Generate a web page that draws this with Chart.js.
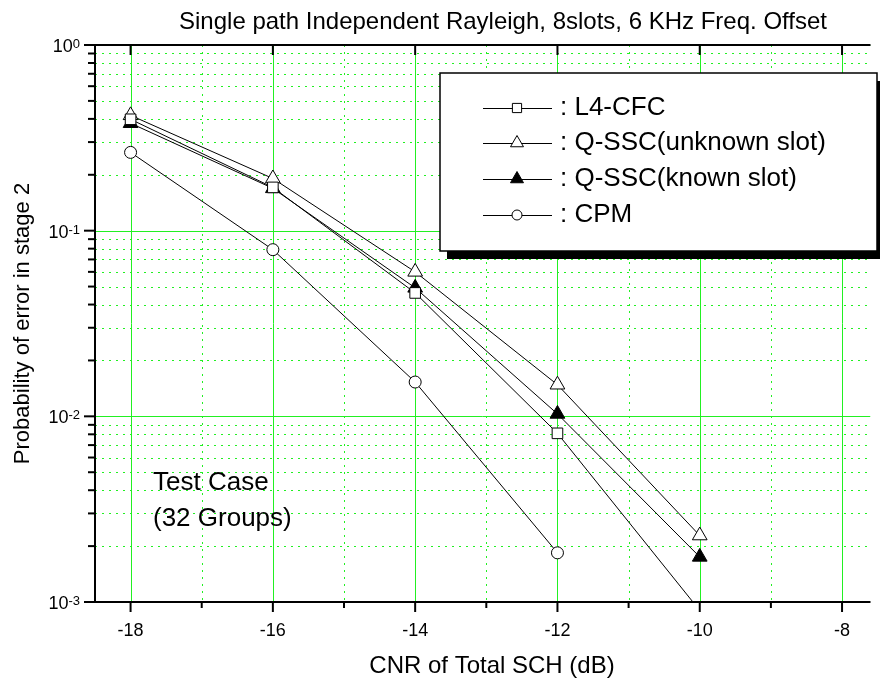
<!DOCTYPE html>
<html>
<head>
<meta charset="utf-8">
<script src="https://cdn.jsdelivr.net/npm/chart.js@4.4.1/dist/chart.umd.min.js"></script>
<style>
  html, body { margin: 0; padding: 0; background: #fff; }
  #wrap { width: 880px; height: 680px; }
</style>
</head>
<body>
<div id="wrap"><canvas id="chart" width="880" height="680"></canvas></div>
<script>
"use strict";

// CNR of total SCH (dB) at which every curve was sampled
const cnrValues = [-18, -16, -14, -12, -10];

// Probability of error in stage 2, one array per scheme
const l4Cfc = [0.398, 0.171, 0.0462, 0.0081, 0.0009];
const qsscUnknown = [0.418, 0.191, 0.060, 0.0148, 0.00228];
const qsscKnown = [0.379, 0.169, 0.0492, 0.0103, 0.00175];
const cpm = [0.264, 0.079, 0.0153, 0.00184];

const seriesNames = [
  ": L4-CFC",
  ": Q-SSC(unknown slot)",
  ": Q-SSC(known slot)",
  ": CPM",
];

// Axis ticks
const xMajorTicks = [-18, -16, -14, -12, -10, -8];
const xMinorTicks = [-17, -15, -13, -11, -9];
const yDecades = [1, 0.1, 0.01, 0.001];
const yExponents = ["0", "-1", "-2", "-3"];
const yMinorSteps = [2, 3, 4, 5, 6, 7, 8, 9];

const chartTitle = "Single path Independent Rayleigh, 8slots, 6 KHz Freq. Offset";
const xTitle = "CNR of Total SCH (dB)";
const yTitle = "Probability of error in stage 2";
const noteLines = ["Test Case", "(32 Groups)"];

const FONT = '"Liberation Sans", Arial, sans-serif';
const GREEN = "#22f022";

// minor log grid values (2..9 of every decade below 1)
const yMinorValues = [];
yDecades.slice(1).forEach((d) => {
  yMinorSteps.forEach((m) => yMinorValues.push(d * m));
});

function toPoints(values) {
  return values.map((v, i) => ({ x: cnrValues[i], y: v }));
}

function makeDataset(label, values, style, radius, fill) {
  return {
    label: label,
    data: toPoints(values),
    borderColor: "#000",
    borderWidth: 1,
    tension: 0,
    fill: false,
    pointStyle: style,
    pointRadius: radius,
    pointHoverRadius: radius,
    pointBorderWidth: 1,
    pointBorderColor: "#000",
    pointBackgroundColor: fill,
  };
}

function strokeLine(ctx, x1, y1, x2, y2) {
  ctx.beginPath();
  ctx.moveTo(x1, y1);
  ctx.lineTo(x2, y2);
  ctx.stroke();
}

/**
 * Green grid, axis frame, tick marks, all the text and the boxed legend
 */
const decorPlugin = {
  id: "decor",
  beforeDatasetsDraw(chart) {
    const { ctx, chartArea: a, scales } = chart;
    ctx.save();
    ctx.beginPath();
    ctx.rect(a.left, a.top, a.right - a.left, a.bottom - a.top);
    ctx.clip();
    ctx.strokeStyle = GREEN;
    ctx.lineWidth = 1;

    // dotted minor grid
    ctx.setLineDash([2, 5]);
    xMinorTicks.forEach((v) => {
      const px = Math.round(scales.x.getPixelForValue(v)) + 0.5;
      strokeLine(ctx, px, a.top, px, a.bottom);
    });
    yMinorValues.forEach((v) => {
      const py = Math.round(scales.y.getPixelForValue(v)) + 0.5;
      strokeLine(ctx, a.left, py, a.right, py);
    });

    // solid major grid
    ctx.setLineDash([]);
    xMajorTicks.forEach((v) => {
      const px = Math.round(scales.x.getPixelForValue(v)) + 0.5;
      strokeLine(ctx, px, a.top, px, a.bottom);
    });
    yDecades.forEach((v) => {
      const py = Math.round(scales.y.getPixelForValue(v)) + 0.5;
      strokeLine(ctx, a.left, py, a.right, py);
    });
    ctx.restore();
  },
  afterDraw(chart) {
    const { ctx, chartArea: a, scales } = chart;
    const xs = scales.x;
    const ys = scales.y;
    ctx.save();
    ctx.strokeStyle = "#000";
    ctx.fillStyle = "#000";
    ctx.setLineDash([]);

    // frame
    ctx.lineWidth = 2;
    strokeLine(ctx, a.left, a.top, a.left, a.bottom + 1);
    strokeLine(ctx, a.left - 1, a.bottom, a.right, a.bottom);
    strokeLine(ctx, a.left - 11, a.top, a.right, a.top);

    // y ticks, outward
    yDecades.forEach((v) => {
      const py = ys.getPixelForValue(v);
      strokeLine(ctx, a.left - 11, py, a.left, py);
    });
    yMinorValues.forEach((v) => {
      const py = ys.getPixelForValue(v);
      strokeLine(ctx, a.left - 7, py, a.left, py);
    });

    // x ticks: outward on the bottom, inward on the top
    xMajorTicks.forEach((v) => {
      const px = xs.getPixelForValue(v);
      strokeLine(ctx, px, a.bottom, px, a.bottom + 10);
      strokeLine(ctx, px, a.top, px, a.top + 10);
    });
    xMinorTicks.forEach((v) => {
      const px = xs.getPixelForValue(v);
      strokeLine(ctx, px, a.bottom, px, a.bottom + 6);
    });

    // x tick labels
    ctx.font = "18px " + FONT;
    ctx.textAlign = "center";
    ctx.textBaseline = "alphabetic";
    xMajorTicks.forEach((v) => {
      ctx.fillText(String(v), xs.getPixelForValue(v), a.bottom + 34);
    });

    // y tick labels as 10 with a raised exponent
    yDecades.forEach((v, i) => {
      const py = ys.getPixelForValue(v);
      const right = a.left - 15;
      ctx.font = "13px " + FONT;
      ctx.textAlign = "right";
      const expW = ctx.measureText(yExponents[i]).width;
      ctx.fillText(yExponents[i], right, py + 3);
      ctx.font = "18px " + FONT;
      ctx.fillText("10", right - expW, py + 7);
    });

    // titles
    ctx.textAlign = "center";
    ctx.font = "24px " + FONT;
    ctx.fillText(chartTitle, 503, 29);
    ctx.font = "24px " + FONT;
    ctx.fillText(xTitle, 492, 673);
    ctx.font = "22px " + FONT;
    ctx.save();
    ctx.translate(29, (a.top + a.bottom) / 2);
    ctx.rotate(-Math.PI / 2);
    ctx.fillText(yTitle, 0, 0);
    ctx.restore();

    // annotation
    ctx.textAlign = "left";
    ctx.font = "26px " + FONT;
    ctx.fillText(noteLines[0], 153, 490);
    ctx.fillText(noteLines[1], 153, 526);

    // legend box with drop shadow
    const box = { left: 440, top: 73, right: 877, bottom: 251 };
    ctx.fillRect(box.left + 7, box.top + 8, box.right - box.left, box.bottom - box.top);
    ctx.fillStyle = "#fff";
    ctx.fillRect(box.left, box.top, box.right - box.left, box.bottom - box.top);
    ctx.lineWidth = 1.5;
    ctx.strokeRect(box.left, box.top, box.right - box.left, box.bottom - box.top);

    const rowY = [108, 143, 179, 215];
    ctx.font = "26px " + FONT;
    ctx.textBaseline = "middle";
    chart.data.datasets.forEach((ds, i) => {
      const y = rowY[i];
      ctx.strokeStyle = "#000";
      ctx.lineWidth = 1;
      strokeLine(ctx, 483, y + 0.5, 552, y + 0.5);
      ctx.fillStyle = ds.pointBackgroundColor;
      if (window.Chart && Chart.helpers && Chart.helpers.drawPoint) {
        Chart.helpers.drawPoint(
          ctx,
          { pointStyle: ds.pointStyle, radius: ds.pointRadius - 1, rotation: 0, borderWidth: 1 },
          517,
          y
        );
      }
      ctx.fillStyle = "#000";
      ctx.fillText(seriesNames[i], 560, y);
    });

    ctx.restore();
  },
};

const chartCtx = document.getElementById("chart").getContext("2d");

new Chart(chartCtx, {
  type: "line",
  data: {
    datasets: [
      makeDataset(seriesNames[0], l4Cfc, "rect", 7.5, "#fff"),
      makeDataset(seriesNames[1], qsscUnknown, "triangle", 8.5, "#fff"),
      makeDataset(seriesNames[2], qsscKnown, "triangle", 8.5, "#000"),
      makeDataset(seriesNames[3], cpm, "circle", 6, "#fff"),
    ],
  },
  options: {
    responsive: false,
    animation: false,
    devicePixelRatio: 1,
    layout: { padding: { top: 45, right: 0, bottom: 0, left: 0 } },
    plugins: {
      legend: { display: false },
      tooltip: { enabled: false },
      title: { display: false },
    },
    scales: {
      x: {
        type: "linear",
        min: -18.5,
        max: -7.6,
        afterBuildTicks: (scale) => {
          scale.ticks = xMajorTicks.map((v) => ({ value: v }));
        },
        afterFit: (scale) => {
          scale.height = 78;
        },
        ticks: { display: false },
        grid: { display: false },
        border: { display: false },
      },
      y: {
        type: "logarithmic",
        min: 0.001,
        max: 1,
        afterBuildTicks: (scale) => {
          scale.ticks = yDecades.map((v) => ({ value: v }));
        },
        afterFit: (scale) => {
          scale.width = 95;
        },
        ticks: { display: false },
        grid: { display: false },
        border: { display: false },
      },
    },
  },
  plugins: [decorPlugin],
});
</script>
</body>
</html>
